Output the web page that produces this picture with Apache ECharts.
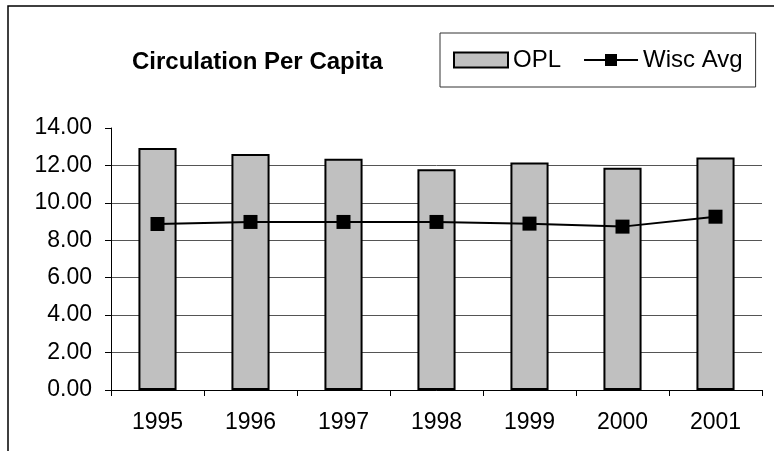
<!DOCTYPE html>
<html>
<head>
<meta charset="utf-8">
<script src="https://cdn.jsdelivr.net/npm/echarts@6/dist/echarts.min.js"></script>
<style>
  html, body { margin: 0; padding: 0; background: #fff; }
  #chart { width: 774px; height: 451px; }
</style>
</head>
<body>
<div id="chart"></div>
<script>
// values
const years = ['1995', '1996', '1997', '1998', '1999', '2000', '2001'];
const oplValues = [12.93, 12.61, 12.36, 11.80, 12.15, 11.87, 12.42];
const wiscAvgValues = [8.87, 8.98, 8.98, 8.98, 8.89, 8.73, 9.26];

const font = 'Liberation Sans, Arial, sans-serif';

const myChart = echarts.init(document.getElementById('chart'));

const option = {
  backgroundColor: '#fff',
  animation: false,
  textStyle: { fontFamily: font, color: '#000' },
  graphic: [
    {
      // outer frame (cut off at right and bottom)
      type: 'rect',
      shape: { x: 8, y: 6, width: 820, height: 520 },
      style: { fill: 'none', stroke: '#000', lineWidth: 1.5 },
      silent: true
    }
  ],
  title: {
    text: 'Circulation Per Capita',
    left: 132,
    top: 50,
    padding: 0,
    textStyle: { fontFamily: font, fontSize: 24, fontWeight: 'bold', color: '#000' }
  },
  legend: {
    left: 440,
    top: 33,
    padding: [15, 13, 15, 13],
    itemWidth: 54,
    itemHeight: 15,
    itemGap: 22,
    borderColor: '#333',
    borderWidth: 1,
    textStyle: { fontFamily: font, fontSize: 24, color: '#000' },
    data: [
      { name: 'OPL', icon: 'rect' },
      { name: 'Wisc Avg' }
    ]
  },
  grid: {
    left: 111,
    right: 12,
    top: 128,
    bottom: 61,
    containLabel: false
  },
  xAxis: {
    type: 'category',
    data: years,
    boundaryGap: true,
    axisLine: { lineStyle: { color: '#000', width: 1 } },
    axisTick: { show: true, length: 6, inside: false, lineStyle: { color: '#000' } },
    axisLabel: { fontFamily: font, fontSize: 23, color: '#000', margin: 21 },
    splitLine: { show: false }
  },
  yAxis: {
    type: 'value',
    min: 0,
    max: 14,
    interval: 2,
    axisLine: { show: true, lineStyle: { color: '#000', width: 1 } },
    axisTick: { show: true, length: 6, lineStyle: { color: '#000' } },
    axisLabel: {
      fontFamily: font,
      fontSize: 23,
      color: '#000',
      margin: 19,
      formatter: function (v) { return v.toFixed(2); }
    },
    splitLine: {
      show: true,
      showMaxLine: false,
      lineStyle: { color: '#555', width: 1 }
    }
  },
  series: [
    {
      name: 'OPL',
      type: 'bar',
      data: oplValues,
      barWidth: '41%',
      itemStyle: { color: '#c0c0c0', borderColor: '#000', borderWidth: 2 }
    },
    {
      name: 'Wisc Avg',
      type: 'line',
      data: wiscAvgValues,
      symbol: 'rect',
      symbolSize: 14,
      lineStyle: { color: '#000', width: 2 },
      itemStyle: { color: '#000' }
    }
  ]
};

option && myChart.setOption(option);
</script>
</body>
</html>
